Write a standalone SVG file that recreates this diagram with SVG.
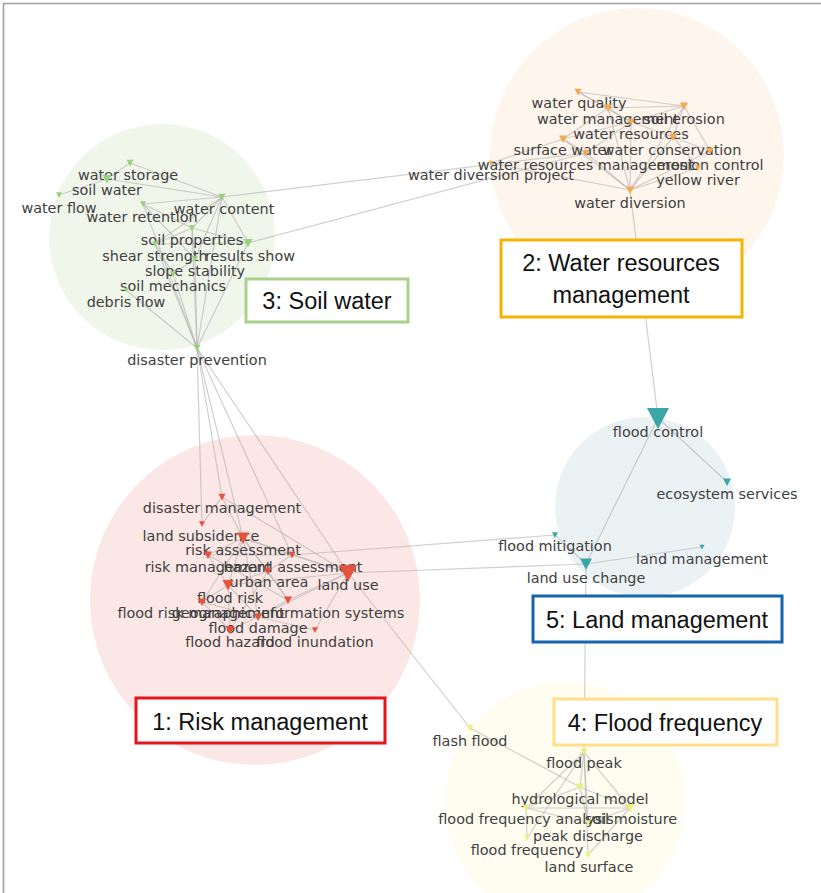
<svg xmlns="http://www.w3.org/2000/svg" xmlns:xlink="http://www.w3.org/1999/xlink" width="821" height="893" viewBox="0 0 821 893">
  <style>
    .lbl { font-family: "DejaVu Sans", sans-serif; font-size: 14.4px; fill: #404040; text-anchor: middle; }
    .edge { stroke: #b0b0b0; stroke-opacity: 0.6; stroke-width: 1.2; fill: none; }
    .o use { fill: #f5a94e; }
    .g use { fill: #9ad27a; }
    .r use { fill: #e5533c; }
    .b use { fill: #3aa6a6; }
    .y use { fill: #eeee80; }
    .box rect { fill: #ffffff; stroke-width: 3; }
    .box text { font-family: "Liberation Sans", Arial, sans-serif; font-size: 23.5px; fill: #111; text-anchor: middle; }
  </style>
  <defs>
    <polygon id="tri" points="-1,-0.9 1,-0.9 0,1"/>
  </defs>

  <rect x="0" y="0" width="821" height="893" fill="#ffffff"/>
  <!-- frame -->
  <path d="M3.5 893 V3.5 H821" fill="none" stroke="#a0a0a0" stroke-width="1.6"/>

  <!-- community halos -->
  <g id="halos">
    <circle cx="637" cy="155" r="147" fill="#fef5ec"/>
    <circle cx="162" cy="237" r="113" fill="#f1f6eb"/>
    <circle cx="255" cy="600" r="165" fill="#fbe7e5"/>
    <circle cx="645" cy="507" r="90" fill="#ebf2f4"/>
    <circle cx="565" cy="802" r="120" fill="#fefdf0"/>
  </g>

  <g id="edges" class="edge">
    <!-- water resources community -->
    <line x1="578" y1="92" x2="608" y2="108"/>
    <line x1="578" y1="92" x2="631" y2="122"/>
    <line x1="578" y1="92" x2="684" y2="106"/>
    <line x1="608" y1="108" x2="684" y2="106"/>
    <line x1="608" y1="108" x2="631" y2="122"/>
    <line x1="608" y1="108" x2="630" y2="190"/>
    <line x1="608" y1="108" x2="563" y2="139"/>
    <line x1="684" y1="106" x2="673" y2="137"/>
    <line x1="684" y1="106" x2="710" y2="151"/>
    <line x1="684" y1="106" x2="631" y2="122"/>
    <line x1="684" y1="106" x2="630" y2="190"/>
    <line x1="631" y1="122" x2="563" y2="139"/>
    <line x1="631" y1="122" x2="673" y2="137"/>
    <line x1="631" y1="122" x2="630" y2="190"/>
    <line x1="631" y1="122" x2="586" y2="153"/>
    <line x1="563" y1="139" x2="586" y2="153"/>
    <line x1="563" y1="139" x2="630" y2="190"/>
    <line x1="563" y1="139" x2="491" y2="163"/>
    <line x1="673" y1="137" x2="630" y2="190"/>
    <line x1="673" y1="137" x2="710" y2="151"/>
    <line x1="673" y1="137" x2="698" y2="168"/>
    <line x1="710" y1="151" x2="630" y2="190"/>
    <line x1="698" y1="168" x2="630" y2="190"/>
    <line x1="586" y1="153" x2="630" y2="190"/>
    <line x1="491" y1="163" x2="630" y2="190"/>
    <!-- soil water community -->
    <line x1="130" y1="163" x2="107" y2="179"/>
    <line x1="107" y1="179" x2="59" y2="195"/>
    <line x1="130" y1="163" x2="222" y2="197"/>
    <line x1="107" y1="179" x2="222" y2="197"/>
    <line x1="143" y1="204" x2="222" y2="197"/>
    <line x1="143" y1="204" x2="192" y2="228"/>
    <line x1="143" y1="204" x2="195" y2="259"/>
    <line x1="222" y1="197" x2="192" y2="228"/>
    <line x1="222" y1="197" x2="248" y2="243"/>
    <line x1="222" y1="197" x2="195" y2="259"/>
    <line x1="222" y1="197" x2="155" y2="244"/>
    <line x1="192" y1="228" x2="248" y2="243"/>
    <line x1="192" y1="228" x2="155" y2="244"/>
    <line x1="192" y1="228" x2="195" y2="259"/>
    <line x1="155" y1="244" x2="248" y2="243"/>
    <line x1="195" y1="259" x2="173" y2="274"/>
    <line x1="155" y1="244" x2="173" y2="274"/>
    <line x1="197" y1="348" x2="192" y2="228"/>
    <line x1="197" y1="348" x2="222" y2="197"/>
    <line x1="197" y1="348" x2="155" y2="244"/>
    <line x1="197" y1="348" x2="195" y2="259"/>
    <line x1="197" y1="348" x2="173" y2="274"/>
    <line x1="197" y1="348" x2="126" y2="290"/>
    <line x1="197" y1="348" x2="143" y2="204"/>
    <line x1="197" y1="348" x2="248" y2="243"/>
    <!-- soil water to water resources -->
    <line x1="222" y1="197" x2="586" y2="153"/>
    <line x1="248" y1="243" x2="586" y2="153"/>
    <!-- soil water to risk -->
    <line x1="197" y1="348" x2="222" y2="497"/>
    <line x1="197" y1="348" x2="243" y2="538"/>
    <line x1="197" y1="348" x2="292" y2="555"/>
    <line x1="197" y1="348" x2="348" y2="573"/>
    <line x1="197" y1="348" x2="202" y2="524"/>
    <!-- risk community -->
    <line x1="222" y1="497" x2="202" y2="524"/>
    <line x1="222" y1="497" x2="243" y2="538"/>
    <line x1="222" y1="497" x2="348" y2="573"/>
    <line x1="243" y1="538" x2="208" y2="555"/>
    <line x1="243" y1="538" x2="292" y2="555"/>
    <line x1="243" y1="538" x2="268" y2="571"/>
    <line x1="243" y1="538" x2="348" y2="573"/>
    <line x1="243" y1="538" x2="228" y2="585"/>
    <line x1="243" y1="538" x2="202" y2="602"/>
    <line x1="243" y1="538" x2="258" y2="617"/>
    <line x1="243" y1="538" x2="288" y2="600"/>
    <line x1="208" y1="555" x2="228" y2="585"/>
    <line x1="208" y1="555" x2="292" y2="555"/>
    <line x1="208" y1="555" x2="288" y2="600"/>
    <line x1="292" y1="555" x2="348" y2="573"/>
    <line x1="292" y1="555" x2="268" y2="571"/>
    <line x1="268" y1="571" x2="228" y2="585"/>
    <line x1="268" y1="571" x2="288" y2="600"/>
    <line x1="268" y1="571" x2="230" y2="630"/>
    <line x1="348" y1="573" x2="228" y2="585"/>
    <line x1="348" y1="573" x2="288" y2="600"/>
    <line x1="348" y1="573" x2="258" y2="617"/>
    <line x1="348" y1="573" x2="315" y2="630"/>
    <line x1="228" y1="585" x2="202" y2="602"/>
    <line x1="228" y1="585" x2="258" y2="617"/>
    <line x1="228" y1="585" x2="230" y2="630"/>
    <line x1="202" y1="602" x2="258" y2="617"/>
    <line x1="202" y1="602" x2="230" y2="630"/>
    <line x1="288" y1="600" x2="258" y2="617"/>
    <line x1="258" y1="617" x2="230" y2="630"/>
    <line x1="258" y1="617" x2="315" y2="630"/>
    <!-- risk to land management and flood frequency -->
    <line x1="292" y1="555" x2="555" y2="535"/>
    <line x1="348" y1="573" x2="586" y2="564"/>
    <line x1="348" y1="573" x2="470" y2="728"/>
    <!-- water resources to land management -->
    <line x1="630" y1="190" x2="658" y2="418"/>
    <!-- land management community -->
    <line x1="658" y1="418" x2="727" y2="482"/>
    <line x1="658" y1="418" x2="586" y2="564"/>
    <line x1="586" y1="564" x2="702" y2="547"/>
    <line x1="586" y1="564" x2="555" y2="535"/>
    <line x1="586" y1="564" x2="584" y2="752"/>
    <!-- flood frequency community -->
    <line x1="470" y1="728" x2="580" y2="787"/>
    <line x1="584" y1="752" x2="580" y2="787"/>
    <line x1="584" y1="752" x2="630" y2="808"/>
    <line x1="584" y1="752" x2="526" y2="808"/>
    <line x1="584" y1="752" x2="588" y2="823"/>
    <line x1="584" y1="752" x2="588" y2="855"/>
    <line x1="584" y1="752" x2="527" y2="838"/>
    <line x1="580" y1="787" x2="630" y2="808"/>
    <line x1="580" y1="787" x2="526" y2="808"/>
    <line x1="580" y1="787" x2="588" y2="823"/>
    <line x1="526" y1="808" x2="630" y2="808"/>
    <line x1="526" y1="808" x2="588" y2="823"/>
    <line x1="526" y1="808" x2="527" y2="838"/>
    <line x1="630" y1="808" x2="588" y2="855"/>
    <line x1="630" y1="808" x2="588" y2="823"/>
  </g>

  <!-- water resources community -->
  <g id="n-water-quality" class="o"><use xlink:href="#tri" transform="translate(578 92) scale(3.5)"/><text class="lbl" x="579" y="108">water quality</text></g>
  <g id="n-water-management" class="o"><use xlink:href="#tri" transform="translate(608 108) scale(4)"/><text class="lbl" x="608" y="124">water management</text></g>
  <g id="n-soil-erosion" class="o"><use xlink:href="#tri" transform="translate(684 106) scale(4)"/><text class="lbl" x="684" y="124">soil erosion</text></g>
  <g id="n-water-resources" class="o"><use xlink:href="#tri" transform="translate(631 122) scale(3.5)"/><text class="lbl" x="631" y="139">water resources</text></g>
  <g id="n-surface-water" class="o"><use xlink:href="#tri" transform="translate(563 139) scale(4)"/><text class="lbl" x="563" y="155">surface water</text></g>
  <g id="n-water-conservation" class="o"><use xlink:href="#tri" transform="translate(673 137) scale(4)"/><text class="lbl" x="672" y="155">water conservation</text></g>
  <g id="n-water-resources-management" class="o"><use xlink:href="#tri" transform="translate(586 153) scale(3.5)"/><text class="lbl" x="586" y="170">water resources management</text></g>
  <g id="n-erosion-control" class="o"><use xlink:href="#tri" transform="translate(710 151) scale(3.5)"/><text class="lbl" x="710" y="170">erosion control</text></g>
  <g id="n-yellow-river" class="o"><use xlink:href="#tri" transform="translate(698 168) scale(3)"/><text class="lbl" x="698" y="185">yellow river</text></g>
  <g id="n-water-diversion-project" class="o"><use xlink:href="#tri" transform="translate(491 163) scale(2.5)"/><text class="lbl" x="491" y="180">water diversion project</text></g>
  <g id="n-water-diversion" class="o"><use xlink:href="#tri" transform="translate(630 190) scale(4)"/><text class="lbl" x="630" y="208">water diversion</text></g>

  <!-- soil water community -->
  <g id="n-water-storage" class="g"><use xlink:href="#tri" transform="translate(130 163) scale(3.5)"/><text class="lbl" x="128" y="180">water storage</text></g>
  <g id="n-soil-water" class="g"><use xlink:href="#tri" transform="translate(107 179) scale(4.5)"/><text class="lbl" x="107" y="195">soil water</text></g>
  <g id="n-water-flow" class="g"><use xlink:href="#tri" transform="translate(59 195) scale(3)"/><text class="lbl" x="59" y="213">water flow</text></g>
  <g id="n-water-retention" class="g"><use xlink:href="#tri" transform="translate(143 204) scale(3)"/><text class="lbl" x="142" y="222">water retention</text></g>
  <g id="n-water-content" class="g"><use xlink:href="#tri" transform="translate(222 197) scale(3.5)"/><text class="lbl" x="224" y="214">water content</text></g>
  <g id="n-soil-properties" class="g"><use xlink:href="#tri" transform="translate(192 228) scale(3)"/><text class="lbl" x="192" y="245">soil properties</text></g>
  <g id="n-shear-strength" class="g"><use xlink:href="#tri" transform="translate(155 244) scale(3)"/><text class="lbl" x="155" y="261">shear strength</text></g>
  <g id="n-results-show" class="g"><use xlink:href="#tri" transform="translate(248 243) scale(4.5)"/><text class="lbl" x="250" y="261">results show</text></g>
  <g id="n-slope-stability" class="g"><use xlink:href="#tri" transform="translate(195 259) scale(3)"/><text class="lbl" x="195" y="276">slope stability</text></g>
  <g id="n-soil-mechanics" class="g"><use xlink:href="#tri" transform="translate(173 274) scale(3)"/><text class="lbl" x="173" y="291">soil mechanics</text></g>
  <g id="n-debris-flow" class="g"><use xlink:href="#tri" transform="translate(126 290) scale(2.5)"/><text class="lbl" x="126" y="307">debris flow</text></g>
  <g id="n-disaster-prevention" class="g"><use xlink:href="#tri" transform="translate(197 348) scale(3.5)"/><text class="lbl" x="197" y="365">disaster prevention</text></g>

  <!-- risk community -->
  <g id="n-disaster-management" class="r"><use xlink:href="#tri" transform="translate(222 497) scale(3.5)"/><text class="lbl" x="222" y="513">disaster management</text></g>
  <g id="n-land-subsidence" class="r"><use xlink:href="#tri" transform="translate(202 524) scale(3)"/><text class="lbl" x="201" y="541">land subsidence</text></g>
  <g id="n-risk-assessment" class="r"><use xlink:href="#tri" transform="translate(243 538) scale(6)"/><text class="lbl" x="243" y="555">risk assessment</text></g>
  <g id="n-risk-management" class="r"><use xlink:href="#tri" transform="translate(208 555) scale(4)"/><text class="lbl" x="208" y="572">risk management</text></g>
  <g id="n-hazard-assessment" class="r"><use xlink:href="#tri" transform="translate(292 555) scale(3.5)"/><text class="lbl" x="293" y="572">hazard assessment</text></g>
  <g id="n-urban-area" class="r"><use xlink:href="#tri" transform="translate(268 571) scale(4)"/><text class="lbl" x="269" y="587">urban area</text></g>
  <g id="n-land-use" class="r"><use xlink:href="#tri" transform="translate(348 573) scale(9)"/><text class="lbl" x="348" y="590">land use</text></g>
  <g id="n-flood-risk" class="r"><use xlink:href="#tri" transform="translate(228 585) scale(5.5)"/><text class="lbl" x="230" y="603">flood risk</text></g>
  <g id="n-flood-risk-management" class="r"><use xlink:href="#tri" transform="translate(202 602) scale(4)"/><text class="lbl" x="201" y="618">flood risk management</text></g>
  <g id="n-geographic-information-systems" class="r"><use xlink:href="#tri" transform="translate(288 600) scale(4)"/><text class="lbl" x="288" y="618">geographic information systems</text></g>
  <g id="n-flood-damage" class="r"><use xlink:href="#tri" transform="translate(258 617) scale(4)"/><text class="lbl" x="258" y="633">flood damage</text></g>
  <g id="n-flood-hazard" class="r"><use xlink:href="#tri" transform="translate(230 630) scale(4.5)"/><text class="lbl" x="230" y="647">flood hazard</text></g>
  <g id="n-flood-inundation" class="r"><use xlink:href="#tri" transform="translate(315 630) scale(3)"/><text class="lbl" x="315" y="647">flood inundation</text></g>

  <!-- land management community -->
  <g id="n-flood-control" class="b"><use xlink:href="#tri" transform="translate(658 418) scale(11)"/><text class="lbl" x="658" y="437">flood control</text></g>
  <g id="n-ecosystem-services" class="b"><use xlink:href="#tri" transform="translate(727 482) scale(4)"/><text class="lbl" x="727" y="499">ecosystem services</text></g>
  <g id="n-flood-mitigation" class="b"><use xlink:href="#tri" transform="translate(555 535) scale(3)"/><text class="lbl" x="555" y="551">flood mitigation</text></g>
  <g id="n-land-management" class="b"><use xlink:href="#tri" transform="translate(702 547) scale(2.5)"/><text class="lbl" x="702" y="564">land management</text></g>
  <g id="n-land-use-change" class="b"><use xlink:href="#tri" transform="translate(586 564) scale(6)"/><text class="lbl" x="586" y="583">land use change</text></g>

  <!-- flood frequency community -->
  <g id="n-flash-flood" class="y"><use xlink:href="#tri" transform="translate(470 728) scale(3.5)"/><text class="lbl" x="470" y="746">flash flood</text></g>
  <g id="n-flood-peak" class="y"><use xlink:href="#tri" transform="translate(584 752) scale(3.5)"/><text class="lbl" x="584" y="768">flood peak</text></g>
  <g id="n-hydrological-model" class="y"><use xlink:href="#tri" transform="translate(580 787) scale(4)"/><text class="lbl" x="580" y="804">hydrological model</text></g>
  <g id="n-flood-frequency-analysis" class="y"><use xlink:href="#tri" transform="translate(526 808) scale(3.5)"/><text class="lbl" x="526" y="824">flood frequency analysis</text></g>
  <g id="n-soil-moisture" class="y"><use xlink:href="#tri" transform="translate(630 808) scale(4.5)"/><text class="lbl" x="631" y="824">soil moisture</text></g>
  <g id="n-peak-discharge" class="y"><use xlink:href="#tri" transform="translate(588 823) scale(3)"/><text class="lbl" x="588" y="841">peak discharge</text></g>
  <g id="n-flood-frequency" class="y"><use xlink:href="#tri" transform="translate(527 838) scale(3)"/><text class="lbl" x="527" y="855">flood frequency</text></g>
  <g id="n-land-surface" class="y"><use xlink:href="#tri" transform="translate(588 855) scale(3)"/><text class="lbl" x="589" y="872">land surface</text></g>

  <!-- community captions -->
  <g id="cap-soil-water" class="box"><rect x="246" y="279" width="162" height="43" stroke="#a9d08e"/><text x="327" y="309">3: Soil water</text></g>
  <g id="cap-water-resources" class="box"><rect x="501" y="240" width="241" height="77" stroke="#f4b400"/><text x="621" y="271">2: Water resources</text><text x="621" y="303">management</text></g>
  <g id="cap-land-management" class="box"><rect x="533" y="596" width="249" height="46" stroke="#1565ad"/><text x="657" y="628">5: Land management</text></g>
  <g id="cap-flood-frequency" class="box"><rect x="554" y="699" width="223" height="46" stroke="#ffdf88"/><text x="665" y="731">4: Flood frequency</text></g>
  <g id="cap-risk-management" class="box"><rect x="136" y="698" width="249" height="45" stroke="#e3151d"/><text x="260" y="730">1: Risk management</text></g>
</svg>
